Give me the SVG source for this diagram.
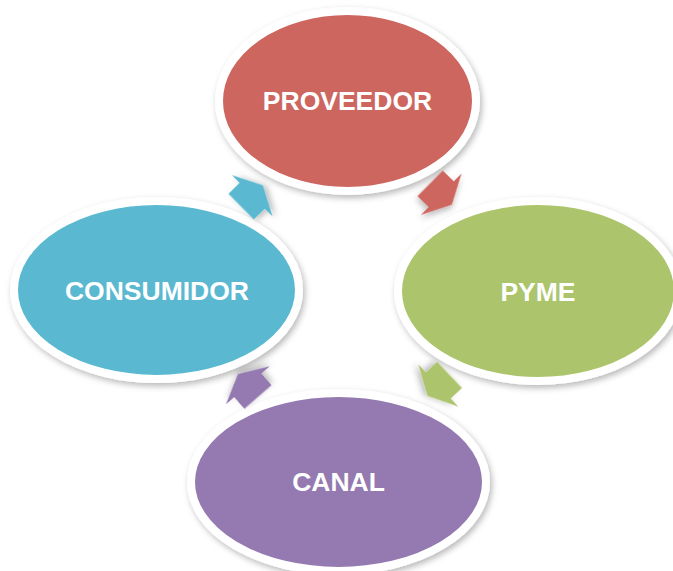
<svg xmlns="http://www.w3.org/2000/svg" width="673" height="571" viewBox="0 0 673 571">
  <defs>
    <filter id="sh" x="-20%" y="-20%" width="140%" height="140%">
      <feDropShadow dx="2" dy="3" stdDeviation="3" flood-color="#000" flood-opacity="0.28"/>
    </filter>
    <polygon id="arr" points="-15.5,-18 0,-18 0,-29 15,0 0,29 0,18 -15.5,18"/>
  </defs>
  <style>
    .node ellipse { stroke: #ffffff; stroke-width: 8; filter: url(#sh); }
    .lbl { font-family: "Liberation Sans", Arial, sans-serif; font-weight: bold; font-size: 26.5px; fill: #ffffff; text-anchor: middle; }
    .conn use { filter: url(#sh); }
  </style>
  <rect width="673" height="571" fill="#ffffff"/>

  <g id="node-proveedor" class="node">
    <ellipse cx="347.5" cy="101" rx="128.5" ry="90" fill="#CD665F"/>
    <text class="lbl" x="347.5" y="110">PROVEEDOR</text>
  </g>
  <g id="node-pyme" class="node">
    <ellipse cx="538" cy="291" rx="140" ry="90" fill="#ACC56C"/>
    <text class="lbl" x="538" y="301">PYME</text>
  </g>
  <g id="node-canal" class="node">
    <ellipse cx="338.5" cy="482" rx="147.5" ry="89" fill="#947AB0"/>
    <text class="lbl" x="338.5" y="491">CANAL</text>
  </g>
  <g id="node-consumidor" class="node">
    <ellipse cx="156.5" cy="290" rx="142.5" ry="89" fill="#5AB9D0"/>
    <text class="lbl" x="157" y="300">CONSUMIDOR</text>
  </g>

  <g id="connectors" class="conn">
    <use href="#arr" fill="#CD665F" transform="translate(441.2,194.2) rotate(44.5)"/>
    <use href="#arr" fill="#ACC56C" transform="translate(438.3,385.5) rotate(136.5)"/>
    <use href="#arr" fill="#947AB0" transform="translate(247.8,385.3) rotate(229)"/>
    <use href="#arr" fill="#5AB9D0" transform="translate(252.2,195.8) rotate(-44.5)"/>
  </g>
</svg>
